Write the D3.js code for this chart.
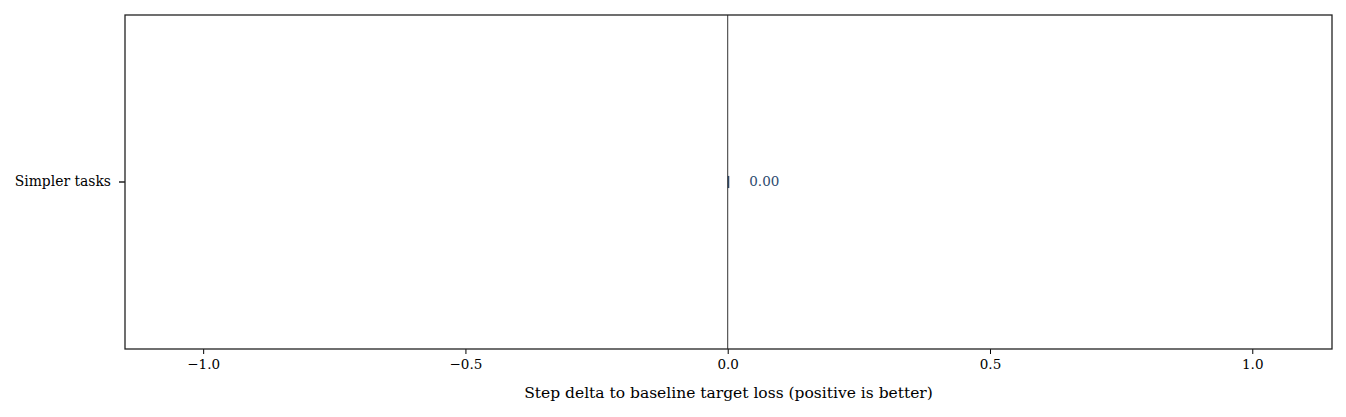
<!DOCTYPE html>
<html>
<head>
<meta charset="utf-8">
<script src="https://cdn.jsdelivr.net/npm/d3@7"></script>
<style>
  body { margin: 0; background: #fff; }
  text { font-family: "DejaVu Serif", serif; fill: #000; }
</style>
</head>
<body>
<div id="chart"></div>
<script>
var categories = ["Simpler tasks"];
var deltas = [0.003];
var xTicks = [-1.0, -0.5, 0.0, 0.5, 1.0];

var width = 1346, height = 417;
var margin = { top: 15, right: 14, bottom: 68, left: 125 };
var w = width - margin.left - margin.right;
var h = height - margin.top - margin.bottom;

var svg = d3.select("#chart").append("svg")
    .attr("width", width)
    .attr("height", height);

var g = svg.append("g")
    .attr("transform", "translate(" + margin.left + "," + margin.top + ")");

var x = d3.scaleLinear().domain([-1.149, 1.152]).range([0, w]);
var y = d3.scaleBand().domain(categories).range([0, h]).padding(0.93);

// bars
g.selectAll(".bar")
    .data(categories)
    .enter().append("rect")
    .attr("class", "bar")
    .attr("x", (d, i) => x(Math.min(0, deltas[i])))
    .attr("y", d => y(d))
    .attr("width", (d, i) => Math.abs(x(deltas[i]) - x(0)))
    .attr("height", y.bandwidth())
    .attr("fill", "#2c4a6e");

// zero line
g.append("line")
    .attr("x1", x(0)).attr("x2", x(0))
    .attr("y1", 0).attr("y2", h)
    .attr("stroke", "#333")
    .attr("stroke-width", 1);

// value labels
g.selectAll(".val")
    .data(categories)
    .enter().append("text")
    .attr("class", "val")
    .attr("x", (d, i) => x(deltas[i]) + 20)
    .attr("y", d => y(d) + y.bandwidth() / 2)
    .attr("dy", "0.32em")
    .style("font-size", "13.5px")
    .style("fill", "#2c4a6e")
    .text((d, i) => deltas[i].toFixed(2));

// x axis
var xAxis = g.append("g")
    .attr("transform", "translate(0," + h + ")")
    .call(d3.axisBottom(x).tickValues(xTicks).tickSize(5).tickPadding(5)
        .tickFormat(d => d3.format(".1f")(d).replace("-", "\u2212")));
xAxis.select(".domain").remove();
xAxis.selectAll("text").style("font-size", "13.5px").attr("font-family", null);
xAxis.selectAll("line").attr("stroke", "#000");

// y axis
var yAxis = g.append("g")
    .call(d3.axisLeft(y).tickSize(6).tickPadding(8));
yAxis.select(".domain").remove();
yAxis.selectAll("text").style("font-size", "13.9px").attr("font-family", null);
yAxis.selectAll("line").attr("stroke", "#000").attr("stroke-width", 1.3);

// frame
g.append("rect")
    .attr("width", w).attr("height", h)
    .attr("fill", "none")
    .attr("stroke", "#222")
    .attr("stroke-width", 1.3);

// axis label
svg.append("text")
    .attr("x", margin.left + w / 2)
    .attr("y", 398)
    .attr("text-anchor", "middle")
    .style("font-size", "15.5px")
    .text("Step delta to baseline target loss (positive is better)");
</script>
</body>
</html>
